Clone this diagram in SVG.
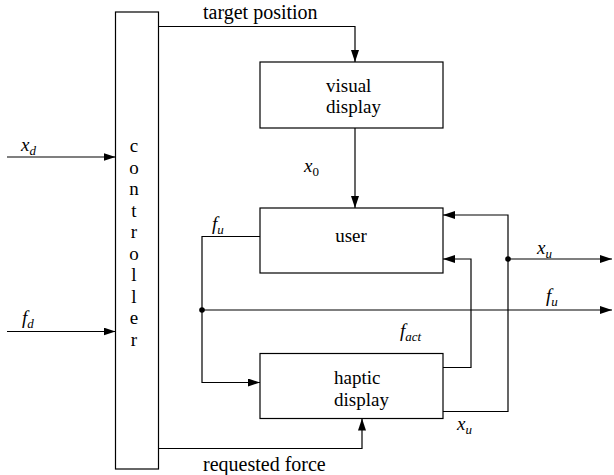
<svg xmlns="http://www.w3.org/2000/svg" width="614" height="475" viewBox="0 0 614 475">
<defs>
<marker id="ah" markerWidth="12" markerHeight="8" refX="12" refY="4" orient="auto" markerUnits="userSpaceOnUse">
<path d="M0,0 L12,4 L0,8 z" fill="#000" stroke="none"/>
</marker>
</defs>
<rect width="614" height="475" fill="#fff"/>
<g id="connectors" fill="none" stroke="#000" stroke-width="1.2">
<polyline points="158.5,26.5 355,26.5 355,62" marker-end="url(#ah)"/>
<line x1="355" y1="128" x2="355" y2="208" marker-end="url(#ah)"/>
<line x1="7" y1="157" x2="115.5" y2="157" marker-end="url(#ah)"/>
<line x1="7" y1="331.5" x2="115.5" y2="331.5" marker-end="url(#ah)"/>
<polyline points="158.5,448.5 362,448.5 362,418.5" marker-end="url(#ah)"/>
<polyline points="260,236.5 202,236.5 202,382.5 260,382.5" marker-end="url(#ah)"/>
<line x1="202" y1="310" x2="612" y2="310" marker-end="url(#ah)"/>
<polyline points="443,367.5 471,367.5 471,259 443,259" marker-end="url(#ah)"/>
<polyline points="443,411.5 508,411.5 508,215 443,215" marker-end="url(#ah)"/>
<line x1="508" y1="259" x2="612" y2="259" marker-end="url(#ah)"/>
<circle cx="202" cy="310" r="2.8" fill="#000" stroke="none"/>
<circle cx="508" cy="259" r="2.8" fill="#000" stroke="none"/>
</g>
<g id="controller">
<rect x="115.5" y="12" width="43" height="457" fill="#fff" stroke="#000" stroke-width="1.2"/>
<text font-family="serif" font-size="19" x="134" y="152" text-anchor="middle">c</text>
<text font-family="serif" font-size="19" x="134" y="173.5" text-anchor="middle">o</text>
<text font-family="serif" font-size="19" x="134" y="195" text-anchor="middle">n</text>
<text font-family="serif" font-size="19" x="134" y="216.5" text-anchor="middle">t</text>
<text font-family="serif" font-size="19" x="134" y="238" text-anchor="middle">r</text>
<text font-family="serif" font-size="19" x="134" y="259.5" text-anchor="middle">o</text>
<text font-family="serif" font-size="19" x="134" y="281" text-anchor="middle">l</text>
<text font-family="serif" font-size="19" x="134" y="302.5" text-anchor="middle">l</text>
<text font-family="serif" font-size="19" x="134" y="324" text-anchor="middle">e</text>
<text font-family="serif" font-size="19" x="134" y="345.5" text-anchor="middle">r</text>
</g>
<g id="visual-display">
<rect x="260" y="62" width="183" height="66" fill="#fff" stroke="#000" stroke-width="1.2"/>
<text font-family="serif" font-size="19" x="326" y="92">visual</text>
<text font-family="serif" font-size="19" x="326" y="113">display</text>
</g>
<g id="user">
<rect x="260" y="208" width="183" height="65" fill="#fff" stroke="#000" stroke-width="1.2"/>
<text font-family="serif" font-size="19" x="351" y="242" text-anchor="middle">user</text>
</g>
<g id="haptic-display">
<rect x="260" y="353.5" width="183" height="65" fill="#fff" stroke="#000" stroke-width="1.2"/>
<text font-family="serif" font-size="19" x="334" y="384">haptic</text>
<text font-family="serif" font-size="19" x="334" y="406">display</text>
</g>
<g id="labels">
<text font-family="serif" font-size="20" x="203" y="19">target position</text>
<text font-family="serif" font-size="20" x="203" y="471">requested force</text>
<text font-family="serif" font-size="19" font-style="italic" x="21" y="151">x<tspan font-size="13" dy="4">d</tspan></text>
<text font-family="serif" font-size="19" font-style="italic" x="22" y="324">f<tspan font-size="13" dy="4">d</tspan></text>
<text font-family="serif" font-size="19" font-style="italic" x="304" y="172">x<tspan font-size="13" dy="4" font-style="normal">0</tspan></text>
<text font-family="serif" font-size="19" font-style="italic" x="212" y="230">f<tspan font-size="13" dy="4">u</tspan></text>
<text font-family="serif" font-size="19" font-style="italic" x="537" y="254">x<tspan font-size="13" dy="4">u</tspan></text>
<text font-family="serif" font-size="19" font-style="italic" x="546" y="302">f<tspan font-size="13" dy="4">u</tspan></text>
<text font-family="serif" font-size="19" font-style="italic" x="400" y="337">f<tspan font-size="13" dy="4">act</tspan></text>
<text font-family="serif" font-size="19" font-style="italic" x="457" y="430">x<tspan font-size="13" dy="4">u</tspan></text>
</g>
</svg>
